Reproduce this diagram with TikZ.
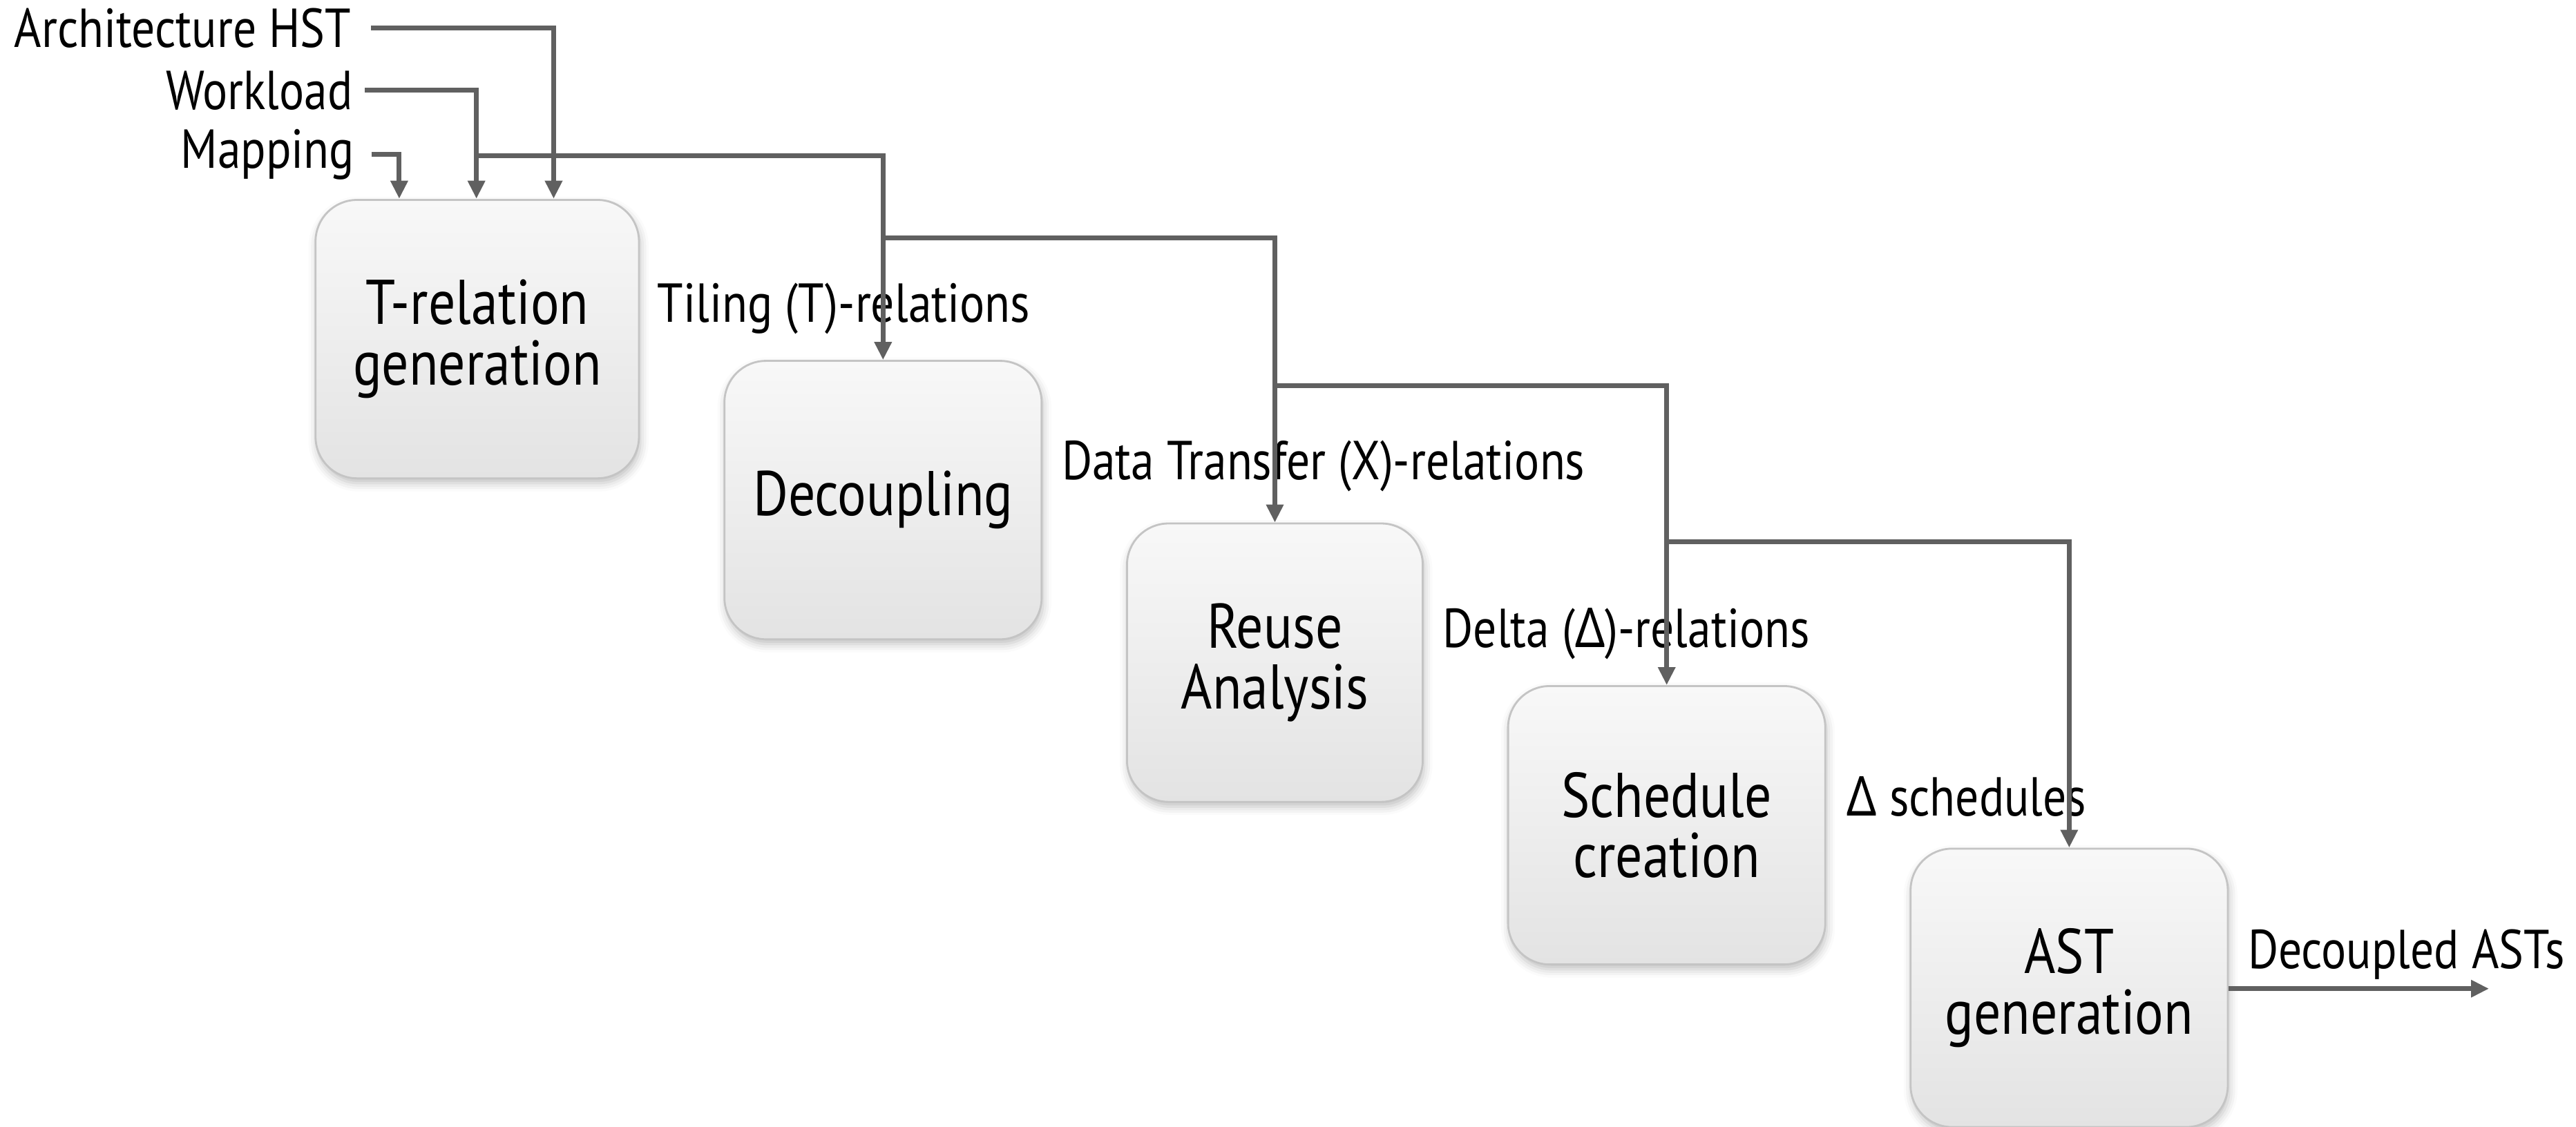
\documentclass[tikz,border=0pt]{standalone}
\usepackage{fontspec}
\setmainfont{PT Sans}[FakeStretch=0.85]
\newfontfamily\greekfont{Noto Sans}[FakeStretch=0.85]
\newcommand{\Dl}{{\greekfont Δ}}
\usetikzlibrary{arrows.meta,shadows.blur}
\definecolor{wire}{HTML}{606060}
\definecolor{boxedge}{HTML}{C4C4C4}
\definecolor{boxtop}{HTML}{F8F8F8}
\definecolor{boxbot}{HTML}{E3E3E3}
\begin{document}
\begin{tikzpicture}[x=0.02378cm,y=-0.02378cm,
  stage/.style={rounded corners=0.6cm, draw=boxedge, line width=0.8pt,
    top color=boxtop, bottom color=boxbot, align=center,
    minimum height=4.03cm, inner sep=2pt,
    font=\fontsize{26pt}{25pt}\selectfont,
    blur shadow={shadow xshift=0.02cm, shadow yshift=-0.07cm,
      shadow blur radius=0.12cm, shadow opacity=25}},
  lbl/.style={inner sep=0pt, font=\fontsize{22.6pt}{26pt}\selectfont},
  conn/.style={draw=wire, line width=2pt, line join=miter,
    -{Triangle[width=0.24cm,length=0.26cm]}, fill=none}]
  % canvas
  \useasboundingbox (0,0) rectangle (1568,686);

  % processing stages
  \node[stage, minimum width=4.68cm] (b1) at (290.5,206.5) {T-relation\\generation};
  \node[stage, minimum width=4.59cm] (b2) at (537.5,304.5) {Decoupling};
  \node[stage, minimum width=4.28cm] (b3) at (776,403.5) {Reuse\\Analysis};
  \node[stage, minimum width=4.59cm] (b4) at (1014.5,502.5) {Schedule\\creation};
  \node[stage, minimum width=4.59cm] (b5) at (1259.5,601.5) {AST\\generation};

  % inputs
  \node[lbl, anchor=east] (arch) at (214,17) {Architecture HST};
  \node[lbl, anchor=east] (work) at (215,55) {Workload};
  \node[lbl, anchor=east] (map)  at (216,94) {Mapping};
  \coordinate (pA) at (337,121);
  \coordinate (pW) at (290,121);
  \coordinate (pM) at (243,121);
  \draw[conn] ([xshift=0.28cm]arch.east) -| (pA);
  \draw[conn] ([xshift=0.17cm]work.east) -| (pW);
  \draw[conn] ([xshift=0.24cm]map.east) -| (pM);

  % intermediate results
  \node[lbl, anchor=west] (tl) at (400,188) {Tiling (T)-relations};
  \node[lbl, anchor=west] (xl) at (646,284) {Data Transfer (X)-relations};
  \node[lbl, anchor=west] (dl) at (878,386) {Delta (\Dl)-relations};
  \node[lbl, anchor=west] (sl) at (1124,485) {\Dl{} schedules};
  \node[lbl, anchor=west] (al) at (1368,581) {Decoupled ASTs};

  \coordinate (j1) at (290,95);
  \coordinate (j2) at (538,145);
  \coordinate (j3) at (776,235);
  \coordinate (j4) at (1015,330);
  \coordinate (out) at (1515,602);
  \draw[conn] (j1) -| (b2.north);
  \draw[conn] (j2) -| (b3.north);
  \draw[conn] (j3) -| (b4.north);
  \draw[conn] (j4) -| (b5.north);
  \draw[conn] (b5.east |- out) -- (out);
\end{tikzpicture}
\end{document}
